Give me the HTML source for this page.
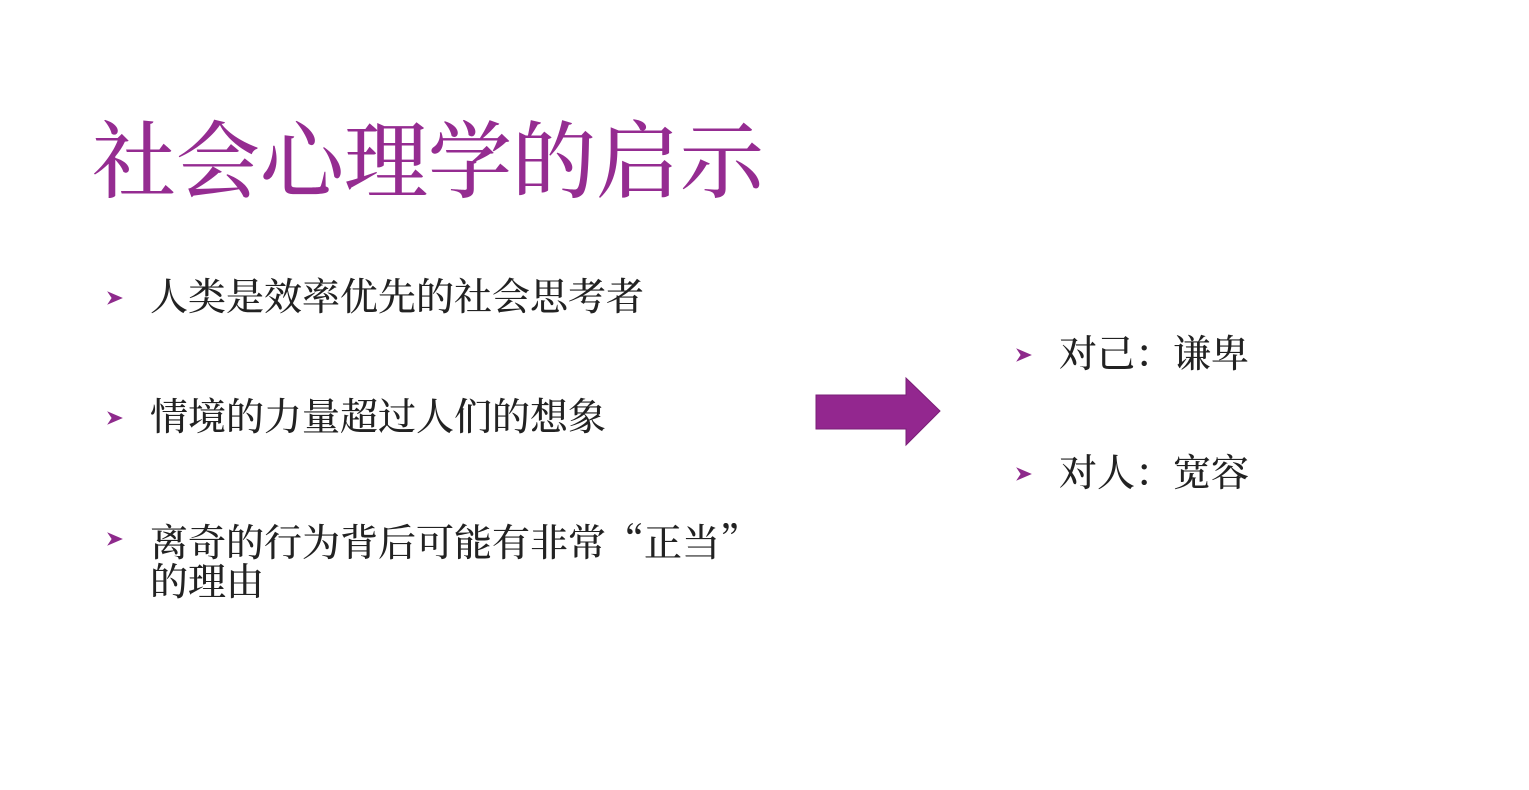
<!DOCTYPE html>
<html><head><meta charset="utf-8"><style>
body{margin:0;width:1529px;height:790px;background:#fff;position:relative;overflow:hidden;font-family:"Liberation Serif","Noto Serif CJK SC",serif;}
.t{position:absolute;left:92px;top:114px;font-size:84px;color:#952c91;line-height:100px;white-space:nowrap;font-weight:500}
.i{position:absolute;font-size:38px;color:#222;line-height:39px;white-space:nowrap;font-weight:500}
.b{position:absolute;width:18px;height:18px}
.q{font-family:"Noto Serif CJK SC",serif}
</style></head><body>
<div class="t">社会心理学的启示</div>
<svg class="b" style="left:106px;top:289px" viewBox="0 0 16 16"><path d="M1 2 L15 8 L1 14 L5 8 Z" fill="#8e2a8c"/></svg>
<div class="i" style="left:150px;top:279px">人类是效率优先的社会思考者</div>
<svg class="b" style="left:106px;top:409px" viewBox="0 0 16 16"><path d="M1 2 L15 8 L1 14 L5 8 Z" fill="#8e2a8c"/></svg>
<div class="i" style="left:150px;top:399px">情境的力量超过人们的想象</div>
<svg class="b" style="left:106px;top:530px" viewBox="0 0 16 16"><path d="M1 2 L15 8 L1 14 L5 8 Z" fill="#8e2a8c"/></svg>
<div class="i" style="left:150px;top:520px">离奇的行为背后可能有非常<span class="q">“</span>正当<span class="q">”</span><br>的理由</div>
<svg style="position:absolute;left:0;top:0" width="1529" height="790"><path d="M816 395 H906 V378 L940 411 L906 445 V429 H816 Z" fill="#93278f" stroke="#7a1f77" stroke-width="1"/></svg>
<svg class="b" style="left:1015px;top:346px" viewBox="0 0 16 16"><path d="M1 2 L15 8 L1 14 L5 8 Z" fill="#8e2a8c"/></svg>
<div class="i" style="left:1059px;top:336px">对己：谦卑</div>
<svg class="b" style="left:1015px;top:465px" viewBox="0 0 16 16"><path d="M1 2 L15 8 L1 14 L5 8 Z" fill="#8e2a8c"/></svg>
<div class="i" style="left:1059px;top:455px">对人：宽容</div>
</body></html>
